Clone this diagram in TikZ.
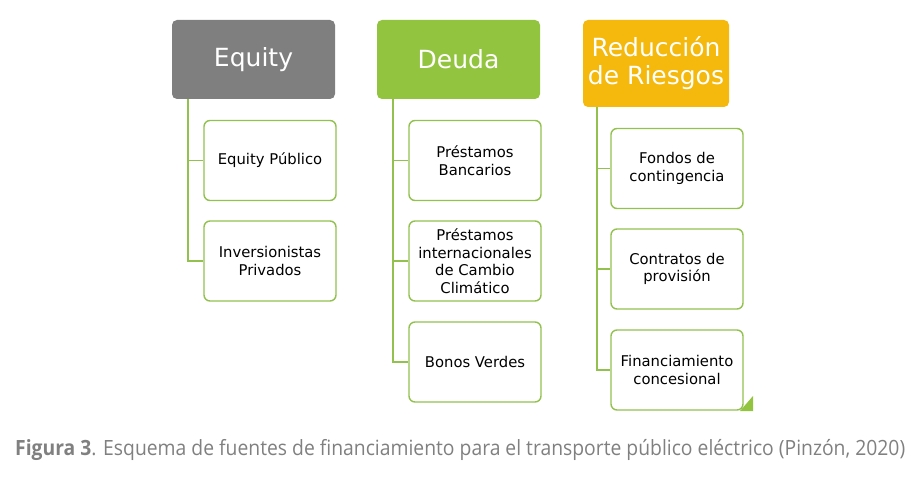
\documentclass[tikz,border=0pt]{standalone}
\usepackage{fontspec}
\setmainfont{DejaVu Sans}
\newfontfamily\capfont[FakeStretch=0.92]{Open Sans}
\definecolor{hgray}{HTML}{7F7F7F}
\definecolor{hgreen}{HTML}{93C43F}
\definecolor{horange}{HTML}{F5B80C}
\definecolor{bgreen}{HTML}{92C14F}
\definecolor{capgray}{HTML}{808080}
\tikzset{
  head/.style={rounded corners=5pt, inner sep=0pt, text=white, font=\fontsize{25}{28}\selectfont, align=center},
  child/.style={draw=bgreen, line width=1.4pt, fill=white, rounded corners=6pt, minimum width=132pt, minimum height=80pt, inner sep=0pt, align=center, font=\fontsize{14.8}{17.5}\selectfont},
  conn/.style={draw=bgreen, line width=1.4pt},
}
\begin{document}
\begin{tikzpicture}[x=1pt,y=-1pt]
\useasboundingbox (0,0) rectangle (923,484);
% headers
\node[head, fill=hgray, minimum width=163pt, minimum height=79pt] (eq) at (253.5,59.5) {Equity};
\node[head, fill=hgreen, minimum width=163pt, minimum height=79pt] (de) at (458.5,59.5) {Deuda};
\node[head, fill=horange, minimum width=146pt, minimum height=87pt] (re) at (656,63.5) {Reducción\\de Riesgos};
% small corner artifact
\fill[hgreen] (753,396) -- (753,411) -- (740,411) -- cycle;
% children
\node[child] (e1) at (270,160.5) {Equity Público};
\node[child] (e2) at (270,261) {Inversionistas\\Privados};
\node[child] (d1) at (475,160.5) {Préstamos\\Bancarios};
\node[child] (d2) at (475,261) {Préstamos\\internacionales\\de Cambio\\Climático};
\node[child] (d3) at (475,362) {Bonos Verdes};
\node[child] (r1) at (677,168.5) {Fondos de\\contingencia};
\node[child] (r2) at (677,269) {Contratos de\\provisión};
\node[child] (r3) at (677,370) {Financiamiento\\concesional};
% connectors
\coordinate (ex) at (188,0);
\coordinate (dx) at (393,0);
\coordinate (rx) at (597,0);
\draw[conn] (ex |- eq.south) -- (ex |- e2.west) -- (e2.west);
\draw[conn] (ex |- e1.west) -- (e1.west);
\draw[conn] (dx |- de.south) -- (dx |- d3.west) -- (d3.west);
\draw[conn] (dx |- d1.west) -- (d1.west);
\draw[conn] (dx |- d2.west) -- (d2.west);
\draw[conn] (rx |- re.south) -- (rx |- r3.west) -- (r3.west);
\draw[conn] (rx |- r1.west) -- (r1.west);
\draw[conn] (rx |- r2.west) -- (r2.west);
% caption
\node[anchor=west, inner sep=0pt, text=capgray, font=\capfont\fontsize{21}{24}\selectfont] (cap) at (15,450) {\textbf{Figura 3}. Esquema de fuentes de financiamiento para el transporte público eléctrico (Pinzón, 2020)};
\end{tikzpicture}
\end{document}
